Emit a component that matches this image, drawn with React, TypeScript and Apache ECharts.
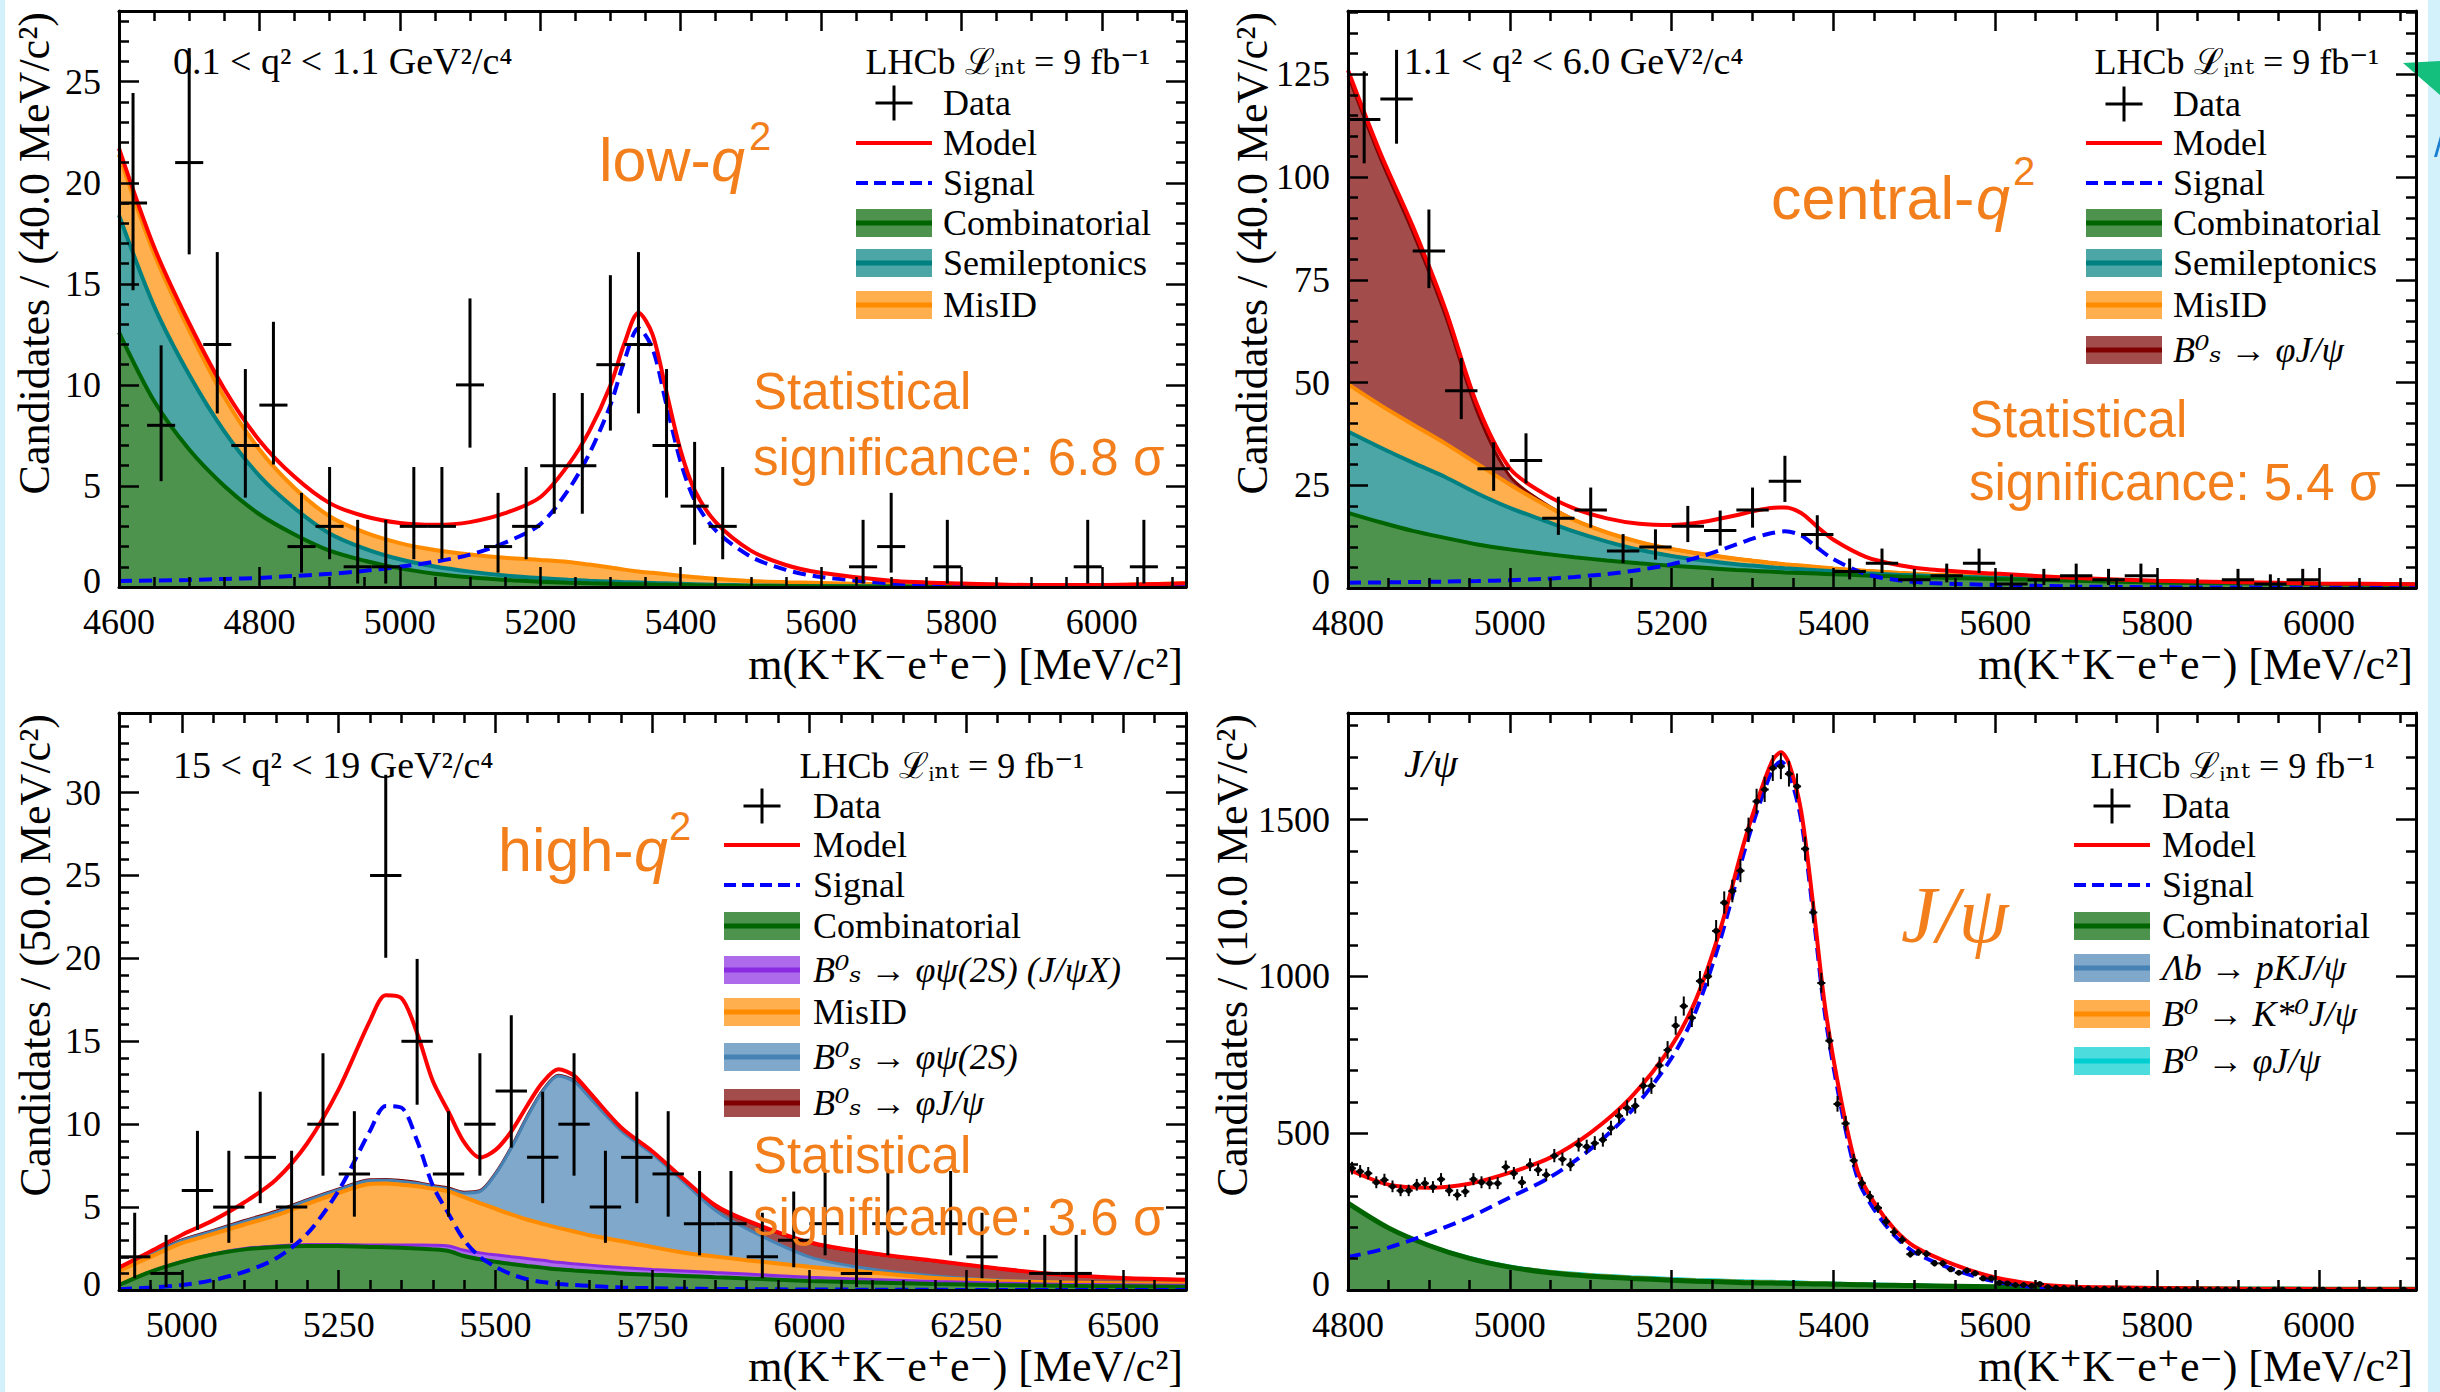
import React, { useEffect, useRef } from "react";
import * as echarts from "echarts";

// ---------------- Panel 1 : low-q2 ----------------
const P1_BIN_START = 4600;
const P1_BIN_WIDTH = 40;
const P1_COUNTS = [19, 8, 21, 12, 7, 9, 2, 3, 1, 1, 3, 3, 10, 2, 3, 6, 6, 11, 12, 7, 4, 3, 0, 0, 0, 0, 1, 2, 0, 1, 0, 0, 0, 0, 1, 0, 1, 0];
const P1_X = [4600, 4650, 4700, 4750, 4800, 4850, 4900, 4950, 5000, 5050, 5100, 5150, 5200, 5240, 5270, 5300, 5320, 5340, 5360, 5380, 5400, 5420, 5450, 5500, 5550, 5600, 5700, 5800, 5900, 6000, 6120];
const P1_COMB = [12.6, 9.2, 6.8, 5.0, 3.6, 2.6, 1.8, 1.3, 0.92, 0.66, 0.48, 0.35, 0.26, 0.21, 0.18, 0.16, 0.14, 0.13, 0.12, 0.11, 0.1, 0.09, 0.07, 0.05, 0.04, 0.03, 0.02, 0.01, 0.01, 0.01, 0.01];
const P1_SEMI = [5.8, 4.7, 3.7, 2.7, 1.9, 1.3, 0.85, 0.6, 0.45, 0.35, 0.28, 0.22, 0.18, 0.15, 0.13, 0.11, 0.1, 0.09, 0.08, 0.07, 0.06, 0.05, 0.04, 0.03, 0.02, 0.02, 0.01, 0.01, 0, 0, 0];
const P1_MISID = [3.0, 2.6, 2.2, 1.7, 1.3, 1.0, 0.85, 0.8, 0.8, 0.82, 0.85, 0.88, 0.9, 0.88, 0.8, 0.7, 0.62, 0.55, 0.5, 0.45, 0.4, 0.35, 0.3, 0.22, 0.18, 0.15, 0.1, 0.08, 0.06, 0.08, 0.17];
const P1_SIGNAL = [0.3, 0.32, 0.35, 0.4, 0.45, 0.55, 0.65, 0.8, 1.0, 1.25, 1.6, 2.2, 3.1, 4.8, 6.6, 9.0, 11.2, 12.8, 11.8, 9.0, 6.2, 4.3, 2.8, 1.5, 0.85, 0.5, 0.18, 0.07, 0.03, 0.01, 0];
const P1_MODEL = [21.7, 16.82, 13.05, 9.8, 7.25, 5.45, 4.15, 3.5, 3.17, 3.08, 3.21, 3.65, 4.44, 6.04, 7.71, 9.97, 12.06, 13.57, 12.5, 9.63, 6.76, 4.79, 3.21, 1.8, 1.09, 0.7, 0.31, 0.17, 0.1, 0.1, 0.18];
const P1_X_TICKS = [4600, 4800, 5000, 5200, 5400, 5600, 5800, 6000];
const P1_Y_TICKS = [0, 5, 10, 15, 20, 25];

// ---------------- Panel 2 : central-q2 ----------------
const P2_BIN_START = 4800;
const P2_BIN_WIDTH = 40;
const P2_COUNTS = [114, 119, 82, 48, 29, 31, 17, 19, 9, 10, 15, 14, 19, 26, 13, 4, 6, 2, 3, 6, 1, 2, 3, 2, 3, 0, 0, 2, 1, 2, 0, 0, 0];
const P2_X = [4800, 4840, 4880, 4920, 4960, 5000, 5040, 5080, 5120, 5160, 5200, 5240, 5280, 5300, 5320, 5340, 5360, 5380, 5400, 5440, 5480, 5520, 5600, 5700, 5800, 5900, 6000, 6120];
const P2_COMB = [18.3, 16.0, 13.9, 12.2, 10.6, 9.4, 8.4, 7.5, 6.7, 6.0, 5.4, 4.9, 4.4, 4.2, 4.0, 3.8, 3.65, 3.5, 3.35, 3.05, 2.8, 2.55, 2.2, 1.75, 1.35, 1.15, 0.95, 0.8];
const P2_SEMI = [19.8, 18.2, 16.6, 14.8, 12.4, 10.1, 8.2, 6.2, 4.6, 3.3, 2.4, 1.8, 1.4, 1.25, 1.1, 1.0, 0.9, 0.8, 0.7, 0.55, 0.45, 0.4, 0.3, 0.2, 0.12, 0.08, 0.05, 0.03];
const P2_MISID = [11.5, 10.3, 9.3, 8.2, 7.2, 5.7, 4.0, 2.8, 2.2, 1.9, 1.7, 1.5, 1.3, 1.2, 1.1, 1.0, 0.9, 0.8, 0.7, 0.6, 0.45, 0.35, 0.25, 0.15, 0.1, 0.08, 0.06, 0.05];
const P2_BSJPSI = [75.1, 60.0, 46.8, 31.3, 12.5, 2.0, 0.4, 0.1, 0.05, 0.02, 0, 0, 0, 0, 0, 0, 0, 0, 0, 0, 0, 0, 0, 0, 0, 0, 0, 0];
const P2_SIGNAL = [1.3, 1.35, 1.45, 1.55, 1.7, 1.9, 2.2, 2.7, 3.4, 4.4, 5.8, 7.9, 10.6, 12.0, 13.2, 13.8, 12.8, 9.8, 7.0, 3.4, 1.9, 1.2, 0.75, 0.35, 0.18, 0.1, 0.05, 0.02];
const P2_MODEL = [126.0, 105.85, 88.05, 68.05, 44.4, 29.1, 23.2, 19.3, 16.95, 15.62, 15.3, 16.1, 17.7, 18.65, 19.4, 19.6, 18.25, 14.9, 11.75, 7.6, 5.6, 4.5, 3.5, 2.45, 1.75, 1.41, 1.11, 0.9];
const P2_X_TICKS = [4800, 5000, 5200, 5400, 5600, 5800, 6000];
const P2_Y_TICKS = [0, 25, 50, 75, 100, 125];

// ---------------- Panel 3 : high-q2 ----------------
const P3_BIN_START = 4900;
const P3_BIN_WIDTH = 50;
const P3_COUNTS = [2, 1, 6, 5, 8, 5, 10, 7, 25, 15, 7, 10, 12, 8, 10, 5, 8, 7, 4, 4, 2, 3, 4, 1, 4, 0, 4, 2, 0, 1, 1, 0, 0, 0];
const P3_X = [4900, 4950, 5000, 5050, 5100, 5150, 5200, 5250, 5300, 5325, 5350, 5375, 5400, 5425, 5450, 5475, 5500, 5525, 5550, 5575, 5600, 5625, 5650, 5700, 5750, 5800, 5850, 5900, 6000, 6100, 6200, 6300, 6400, 6500, 6600];
const P3_COMB = [0.3, 1.1, 1.7, 2.15, 2.45, 2.6, 2.66, 2.65, 2.6, 2.58, 2.55, 2.5, 2.45, 2.35, 2.05, 1.85, 1.7, 1.57, 1.45, 1.35, 1.25, 1.18, 1.12, 1.0, 0.92, 0.85, 0.77, 0.7, 0.55, 0.45, 0.36, 0.3, 0.25, 0.22, 0.2];
const P3_PSI2S_JPSIX = [0, 0.01, 0.02, 0.03, 0.05, 0.06, 0.08, 0.1, 0.12, 0.14, 0.17, 0.21, 0.25, 0.3, 0.35, 0.39, 0.42, 0.44, 0.45, 0.44, 0.42, 0.4, 0.38, 0.35, 0.32, 0.3, 0.28, 0.26, 0.22, 0.18, 0.15, 0.12, 0.1, 0.09, 0.08];
const P3_MISID = [0.85, 0.89, 1.1, 1.2, 1.45, 1.84, 2.46, 3.1, 3.68, 3.7, 3.63, 3.55, 3.4, 3.3, 3.2, 3.0, 2.78, 2.55, 2.35, 2.2, 2.08, 1.95, 1.8, 1.6, 1.35, 1.1, 0.97, 0.84, 0.63, 0.42, 0.21, 0.13, 0.1, 0.09, 0.1];
const P3_PSI2S = [0.1, 0.12, 0.15, 0.17, 0.19, 0.2, 0.2, 0.2, 0.2, 0.2, 0.2, 0.18, 0.15, 0.15, 0.25, 0.7, 2.1, 4.0, 6.15, 8.0, 9.15, 9.05, 8.3, 6.65, 5.6, 4.25, 2.78, 1.9, 0.6, 0.2, 0.13, 0.05, 0.03, 0.02, 0.02];
const P3_BSJPSI = [0.05, 0.05, 0.05, 0.05, 0.05, 0.05, 0.05, 0.05, 0.05, 0.05, 0.05, 0.05, 0.05, 0.05, 0.05, 0.05, 0.05, 0.05, 0.05, 0.05, 0.05, 0.05, 0.05, 0.05, 0.05, 0.1, 0.25, 0.45, 0.85, 0.95, 0.9, 0.7, 0.45, 0.3, 0.22];
const P3_SIGNAL = [0.05, 0.15, 0.3, 0.6, 1.1, 1.9, 3.4, 6.0, 9.6, 11.1, 11.0, 9.0, 6.3, 4.6, 3.0, 2.0, 1.4, 0.95, 0.65, 0.48, 0.36, 0.3, 0.25, 0.15, 0.11, 0.08, 0.06, 0.05, 0.03, 0.02, 0.01, 0, 0, 0, 0];
const P3_MODEL = [1.35, 2.32, 3.32, 4.2, 5.29, 6.65, 8.85, 12.1, 16.25, 17.77, 17.6, 15.49, 12.6, 10.75, 8.9, 7.99, 8.45, 9.56, 11.1, 12.52, 13.31, 12.93, 11.9, 9.8, 8.35, 6.68, 5.11, 4.2, 2.88, 2.22, 1.76, 1.3, 0.93, 0.72, 0.62];
const P3_X_TICKS = [5000, 5250, 5500, 5750, 6000, 6250, 6500];
const P3_Y_TICKS = [0, 5, 10, 15, 20, 25, 30];

// ---------------- Panel 4 : J/psi ----------------
const P4_BIN_START = 4800;
const P4_BIN_WIDTH = 10;
const P4_COUNTS = [
  388, 378, 372, 343, 351, 330, 317, 317, 335, 340,
  328, 353, 317, 303, 314, 353, 343, 340, 340, 392,
  372, 343, 399, 383, 367, 428, 417, 399, 463, 457,
  468, 479, 516, 555, 580, 587, 651, 651, 716, 765,
  843, 905, 868, 985, 1000, 1145, 1235, 1272, 1337, 1467,
  1558, 1596, 1664, 1670, 1646, 1606, 1407, 1204, 979, 795,
  593, 531, 413, 341, 298, 262, 218, 185, 160, 114,
  120, 115, 85, 85, 66, 55, 62, 53, 37, 37,
  23, 21, 16, 16, 13, 19, 9, 7, 6, 5,
  4, 5, 3, 4, 3, 2, 3, 2, 2, 3,
  1, 2, 2, 1, 2, 1, 1, 2, 1, 1,
  0, 1, 1, 0, 1, 1, 0, 1, 0, 1,
  1, 0, 1, 0, 0, 1, 0, 1, 0, 0,
  1, 0,
];
const P4_X = [4800, 4850, 4900, 4950, 5000, 5050, 5100, 5150, 5200, 5230, 5260, 5290, 5310, 5325, 5335, 5345, 5360, 5375, 5390, 5410, 5430, 5450, 5475, 5500, 5550, 5600, 5650, 5700, 5800, 5900, 6000, 6120];
const P4_COMB = [277, 198, 142, 101, 73, 55, 44, 37, 31, 28, 26, 23.5, 22.5, 22, 21.5, 21, 20, 19.5, 19, 18, 17, 16, 15, 14, 12, 10, 8, 6.5, 5, 3.5, 2.5, 2];
const P4_LAMBDAB = [1, 1, 1.5, 2, 2, 2.5, 3, 3, 3, 3, 3, 3, 3, 3, 3, 3, 3, 3, 3, 2.5, 2.5, 2, 2, 2, 1.5, 1, 0.8, 0.5, 0.4, 0.2, 0.1, 0.1];
const P4_KSTAR = [1, 1, 1.5, 2, 2.5, 3, 3, 3, 3, 3, 3, 3, 3, 3, 3, 3, 3, 2.5, 2.5, 2, 2, 2, 1.5, 1.5, 1, 1, 0.6, 0.5, 0.3, 0.2, 0.1, 0.1];
const P4_PHI = [1, 1, 1, 2, 1.5, 1.5, 2, 2, 2, 2, 2, 2, 2, 2, 2, 2, 2, 1.5, 1.5, 1.5, 1.5, 2, 1.5, 1.5, 1.5, 1, 0.6, 0.5, 0.3, 0.1, 0.1, 0];
const P4_SIGNAL = [105, 135, 180, 232, 295, 360, 450, 570, 740, 890, 1115, 1400, 1560, 1660, 1685, 1650, 1500, 1200, 870, 575, 355, 258, 175, 120, 64, 27, 9, 2, 0.5, 0, 0, 0];
const P4_MODEL = [385, 336, 326, 339, 374, 422, 502, 615, 779, 926, 1149, 1431.5, 1590.5, 1690, 1714.5, 1679, 1528, 1226.5, 896, 599, 378, 280, 195, 139, 80, 40, 19, 10, 6.5, 4, 2.8, 2.2];
const P4_X_TICKS = [4800, 5000, 5200, 5400, 5600, 5800, 6000];
const P4_Y_TICKS = [0, 500, 1000, 1500];

// ---------------- styling ----------------
const SERIF = '"Liberation Serif", "DejaVu Serif", serif';
const SANS = '"Liberation Sans", Arial, sans-serif';
const ORANGE = "#f27f1b";
const FILL = { comb: "#4d934d", semi: "#4da6a6", misid: "#ffaf4d", bsjpsi: "#a34c4c", psi2s: "#7fa8cb", psi2sx: "#ad6beb", phi: "#4ddcdd" };
const LINE = { comb: "#006400", semi: "#008080", misid: "#ff8c00", bsjpsi: "#800000", psi2s: "#4682b4", psi2sx: "#8a2be2", phi: "#00ced1" };

const GRIDS = [
  { left: 119, top: 11, width: 1067, height: 576 },
  { left: 1348, top: 11, width: 1068, height: 577 },
  { left: 119, top: 713, width: 1067, height: 577 },
  { left: 1348, top: 713, width: 1068, height: 577 },
];

const PANELS = [
  {
    x: P1_X, xr: [4600, 6120], yr: [0, 28.5], xt: P1_X_TICKS, xs: 50, yt: P1_Y_TICKS, ys: 1,
    bands: [
      { v: P1_COMB, fill: FILL.comb, line: LINE.comb, w: 4 },
      { v: P1_SEMI, fill: FILL.semi, line: LINE.semi, w: 4 },
      { v: P1_MISID, fill: FILL.misid, line: LINE.misid, w: 4 },
    ],
    model: P1_MODEL, signal: P1_SIGNAL, counts: P1_COUNTS, b0: P1_BIN_START, bw: P1_BIN_WIDTH, dot: false, ew: 3,
  },
  {
    x: P2_X, xr: [4800, 6120], yr: [0, 140.4], xt: P2_X_TICKS, xs: 50, yt: P2_Y_TICKS, ys: 5,
    bands: [
      { v: P2_COMB, fill: FILL.comb, line: LINE.comb, w: 4 },
      { v: P2_SEMI, fill: FILL.semi, line: LINE.semi, w: 4 },
      { v: P2_MISID, fill: FILL.misid, line: LINE.misid, w: 4 },
      { v: P2_BSJPSI, fill: FILL.bsjpsi, line: LINE.bsjpsi, w: 3 },
    ],
    model: P2_MODEL, signal: P2_SIGNAL, counts: P2_COUNTS, b0: P2_BIN_START, bw: P2_BIN_WIDTH, dot: false, ew: 3,
  },
  {
    x: P3_X, xr: [4900, 6600], yr: [0, 34.8], xt: P3_X_TICKS, xs: 50, yt: P3_Y_TICKS, ys: 1,
    bands: [
      { v: P3_COMB, fill: FILL.comb, line: LINE.comb, w: 4 },
      { v: P3_PSI2S_JPSIX, fill: FILL.psi2sx, line: LINE.psi2sx, w: 3 },
      { v: P3_MISID, fill: FILL.misid, line: LINE.misid, w: 4 },
      { v: P3_PSI2S, fill: FILL.psi2s, line: LINE.psi2s, w: 3 },
      { v: P3_BSJPSI, fill: FILL.bsjpsi, line: LINE.bsjpsi, w: 3 },
    ],
    model: P3_MODEL, signal: P3_SIGNAL, counts: P3_COUNTS, b0: P3_BIN_START, bw: P3_BIN_WIDTH, dot: false, ew: 3,
  },
  {
    x: P4_X, xr: [4800, 6120], yr: [0, 1840], xt: P4_X_TICKS, xs: 50, yt: P4_Y_TICKS, ys: 100,
    bands: [
      { v: P4_COMB, fill: FILL.comb, line: LINE.comb, w: 5 },
      { v: P4_LAMBDAB, fill: FILL.psi2s, line: LINE.psi2s, w: 1.5 },
      { v: P4_KSTAR, fill: FILL.misid, line: LINE.misid, w: 1.5 },
      { v: P4_PHI, fill: FILL.phi, line: LINE.phi, w: 1.5 },
    ],
    model: P4_MODEL, signal: P4_SIGNAL, counts: P4_COUNTS, b0: P4_BIN_START, bw: P4_BIN_WIDTH, dot: true, ew: 2,
  },
];

function stepValues(lo: number, hi: number, step: number) {
  const out: number[] = [];
  for (let v = Math.ceil(lo / step) * step; v <= hi + 1e-9; v += step) out.push(Math.round(v * 1000) / 1000);
  return out;
}

function cumulate(parts: number[][]) {
  const out: number[][] = [];
  let acc = parts[0].map(() => 0);
  for (const p of parts) {
    acc = acc.map((a, i) => a + p[i]);
    out.push(acc);
  }
  return out;
}

// Gehrels approximation of the 68% Poisson interval
function poissonInterval(n: number) {
  const up = n + 1 + Math.sqrt(n + 0.75);
  const lo = n <= 0 ? 0 : n * Math.pow(1 - 1 / (9 * n) - 1 / (3 * Math.sqrt(n)), 3);
  return [lo, up];
}

function txt(text: string, x: number, y: number, size: number, o: any = {}) {
  const align = o.align || "left";
  const valign = o.valign || "middle";
  return {
    type: "text",
    x,
    y,
    rotation: o.rot || 0,
    z: 50,
    silent: true,
    style: {
      text,
      fill: o.color || "#000",
      fontSize: size,
      fontFamily: o.family || SERIF,
      fontStyle: o.italic ? "italic" : "normal",
      fontWeight: "normal",
      textAlign: align,
      textVerticalAlign: valign,
      align,
      verticalAlign: valign,
    },
  };
}

function legendItems(symL: number, textX: number, rows: any[]) {
  const els: any[] = [];
  const symW = 76;
  const cx = symL + symW / 2;
  rows.forEach((r) => {
    const y = r.y;
    if (r.kind === "data") {
      els.push({ type: "line", z: 50, silent: true, shape: { x1: cx - 18.5, y1: y, x2: cx + 18.5, y2: y }, style: { stroke: "#000", lineWidth: 3 } });
      els.push({ type: "line", z: 50, silent: true, shape: { x1: cx, y1: y - 17.5, x2: cx, y2: y + 17.5 }, style: { stroke: "#000", lineWidth: 3 } });
    } else if (r.kind === "line" || r.kind === "dash") {
      els.push({
        type: "line", z: 50, silent: true,
        shape: { x1: symL, y1: y, x2: symL + symW, y2: y },
        style: { stroke: r.color, lineWidth: 4, lineDash: r.kind === "dash" ? [12, 6] : null },
      });
    } else {
      els.push({ type: "rect", z: 50, silent: true, shape: { x: symL, y: y - 14, width: symW, height: 28 }, style: { fill: r.fill } });
      els.push({ type: "line", z: 51, silent: true, shape: { x1: symL, y1: y, x2: symL + symW, y2: y }, style: { stroke: r.color, lineWidth: 5 } });
    }
    els.push(txt(r.label, textX, y, 36, { italic: !!r.italic }));
  });
  return els;
}

function buildOption() {
  const xAxes: any[] = [];
  const yAxes: any[] = [];
  const mainX: number[] = [];
  const mainY: number[] = [];
  const series: any[] = [];

  const tickStyle = { color: "#000", width: 2.5 };
  const lineStyle = { color: "#000", width: 3 };
  const labelFont = { color: "#000", fontFamily: SERIF, fontSize: 36 };

  PANELS.forEach((p, gi) => {
    const minorX = stepValues(p.xr[0], p.xr[1], p.xs).filter((v) => !p.xt.includes(v));
    const minorY = stepValues(p.yr[0], p.yr[1], p.ys).filter((v) => !p.yt.includes(v));
    const xBase = { type: "value", gridIndex: gi, min: p.xr[0], max: p.xr[1], z: 10, splitLine: { show: false } };
    const yBase = { type: "value", gridIndex: gi, min: p.yr[0], max: p.yr[1], z: 10, splitLine: { show: false } };

    mainX.push(xAxes.length);
    xAxes.push({
      ...xBase, position: "bottom",
      axisLine: { show: true, onZero: false, lineStyle },
      axisTick: { show: true, inside: true, length: 20, lineStyle: tickStyle, customValues: p.xt },
      axisLabel: { show: true, customValues: p.xt, margin: 17, ...labelFont, formatter: (v: number) => String(v) },
    });
    xAxes.push({
      ...xBase, position: "bottom",
      axisLine: { show: false, onZero: false },
      axisTick: { show: true, inside: true, length: 10, lineStyle: tickStyle, customValues: minorX },
      axisLabel: { show: false },
    });
    xAxes.push({
      ...xBase, position: "top",
      axisLine: { show: true, onZero: false, lineStyle },
      axisTick: { show: true, inside: true, length: 20, lineStyle: tickStyle, customValues: p.xt },
      axisLabel: { show: false },
    });
    xAxes.push({
      ...xBase, position: "top",
      axisLine: { show: false, onZero: false },
      axisTick: { show: true, inside: true, length: 10, lineStyle: tickStyle, customValues: minorX },
      axisLabel: { show: false },
    });

    mainY.push(yAxes.length);
    yAxes.push({
      ...yBase, position: "left",
      axisLine: { show: true, onZero: false, lineStyle },
      axisTick: { show: true, inside: true, length: 20, lineStyle: tickStyle, customValues: p.yt },
      axisLabel: {
        show: true, customValues: p.yt, margin: 18, ...labelFont,
        // the zero label is nudged up a little so it clears the x labels in the corner
        formatter: (v: number) => (v === 0 ? "{z|0}" : String(v)),
        rich: { z: { ...labelFont, padding: [0, 0, 12, 0] } },
      },
    });
    yAxes.push({
      ...yBase, position: "left",
      axisLine: { show: false, onZero: false },
      axisTick: { show: true, inside: true, length: 10, lineStyle: tickStyle, customValues: minorY },
      axisLabel: { show: false },
    });
    yAxes.push({
      ...yBase, position: "right",
      axisLine: { show: true, onZero: false, lineStyle },
      axisTick: { show: true, inside: true, length: 20, lineStyle: tickStyle, customValues: p.yt },
      axisLabel: { show: false },
    });
    yAxes.push({
      ...yBase, position: "right",
      axisLine: { show: false, onZero: false },
      axisTick: { show: true, inside: true, length: 10, lineStyle: tickStyle, customValues: minorY },
      axisLabel: { show: false },
    });

    const xi = mainX[gi];
    const yi = mainY[gi];
    // stacked bands: draw the top-most cumulative first so lower bands paint over it
    const tops = cumulate(p.bands.map((b) => b.v));
    for (let k = p.bands.length - 1; k >= 0; k--) {
      const b = p.bands[k];
      series.push({
        type: "line", xAxisIndex: xi, yAxisIndex: yi, z: 2, silent: true,
        data: p.x.map((x, i) => [x, tops[k][i]]),
        smooth: 0.3, symbol: "none", showSymbol: false,
        lineStyle: { color: b.line, width: b.w },
        areaStyle: { color: b.fill, opacity: 1 },
      });
    }
    series.push({
      type: "line", xAxisIndex: xi, yAxisIndex: yi, z: 3, silent: true,
      data: p.x.map((x, i) => [x, p.signal[i]]),
      smooth: 0.3, symbol: "none", showSymbol: false,
      lineStyle: { color: "#0000ff", width: 4, type: [13, 7] },
    });
    series.push({
      type: "line", xAxisIndex: xi, yAxisIndex: yi, z: 3, silent: true,
      data: p.x.map((x, i) => [x, p.model[i]]),
      smooth: 0.3, symbol: "none", showSymbol: false,
      lineStyle: { color: "#ff0000", width: 4 },
    });
    const pts: number[][] = [];
    p.counts.forEach((n, i) => {
      if (n <= 0) return;
      const [lo, up] = poissonInterval(n);
      pts.push([p.b0 + p.bw * (i + 0.5), n, lo, up, p.bw / 2]);
    });
    const ew = p.ew;
    const dot = p.dot;
    series.push({
      type: "custom", xAxisIndex: xi, yAxisIndex: yi, z: 4, silent: true, clip: true,
      data: pts,
      renderItem: (params: any, api: any) => {
        const x = api.value(0), y = api.value(1), lo = api.value(2), up = api.value(3), hw = api.value(4);
        const a = api.coord([x - hw, y]);
        const b = api.coord([x + hw, y]);
        const c = api.coord([x, lo]);
        const d = api.coord([x, up]);
        const children: any[] = [
          { type: "line", shape: { x1: a[0], y1: a[1], x2: b[0], y2: b[1] }, style: { stroke: "#000", lineWidth: ew } },
          { type: "line", shape: { x1: c[0], y1: c[1], x2: d[0], y2: d[1] }, style: { stroke: "#000", lineWidth: ew } },
        ];
        if (dot) {
          const m = api.coord([x, y]);
          children.push({ type: "circle", shape: { cx: m[0], cy: m[1], r: 3 }, style: { fill: "#000" } });
        }
        return { type: "group", children };
      },
    });
  });

  const g: any[] = [];
  // slide background edges
  g.push({ type: "rect", z: 0, silent: true, shape: { x: 0, y: 0, width: 5, height: 1392 }, style: { fill: "#d3f1fb" } });
  g.push({ type: "rect", z: 0, silent: true, shape: { x: 2428, y: 0, width: 12, height: 1392 }, style: { fill: "#d3f1fb" } });
  g.push({ type: "polygon", z: 1, silent: true, shape: { points: [[2403, 63], [2440, 61], [2440, 95]] }, style: { fill: "#14bf7e" } });
  g.push({ type: "polygon", z: 1, silent: true, shape: { points: [[2434, 157], [2440, 136], [2440, 146], [2437, 157]] }, style: { fill: "#1a7fd0" } });

  // axis titles
  g.push(txt("Candidates / (40.0 MeV/c²)", 34, 12, 44, { rot: Math.PI / 2, align: "right" }));
  g.push(txt("Candidates / (40.0 MeV/c²)", 1252, 12, 44, { rot: Math.PI / 2, align: "right" }));
  g.push(txt("Candidates / (50.0 MeV/c²)", 35, 714, 44, { rot: Math.PI / 2, align: "right" }));
  g.push(txt("Candidates / (10.0 MeV/c²)", 1232, 714, 44, { rot: Math.PI / 2, align: "right" }));
  g.push(txt("m(K⁺K⁻e⁺e⁻) [MeV/c²]", 1183, 664, 44, { align: "right" }));
  g.push(txt("m(K⁺K⁻e⁺e⁻) [MeV/c²]", 2413, 664, 44, { align: "right" }));
  g.push(txt("m(K⁺K⁻e⁺e⁻) [MeV/c²]", 1183, 1366, 44, { align: "right" }));
  g.push(txt("m(K⁺K⁻e⁺e⁻) [MeV/c²]", 2413, 1366, 44, { align: "right" }));

  // region labels
  g.push(txt("0.1 < q² < 1.1 GeV²/c⁴", 173, 61, 38));
  g.push(txt("1.1 < q² < 6.0 GeV²/c⁴", 1404, 61, 38));
  g.push(txt("15 < q² < 19 GeV²/c⁴", 173, 765, 38));
  g.push(txt("J/ψ", 1404, 763, 40, { italic: true }));
  g.push(txt("LHCb ℒᵢₙₜ = 9 fb⁻¹", 1150, 62, 36, { align: "right" }));
  g.push(txt("LHCb ℒᵢₙₜ = 9 fb⁻¹", 2379, 62, 36, { align: "right" }));
  g.push(txt("LHCb ℒᵢₙₜ = 9 fb⁻¹", 1084, 766, 36, { align: "right" }));
  g.push(txt("LHCb ℒᵢₙₜ = 9 fb⁻¹", 2375, 766, 36, { align: "right" }));

  // orange annotations
  const O = { color: ORANGE, family: SANS };
  g.push(txt("low-", 599, 160, 61, O));
  g.push(txt("q", 711, 160, 61, { ...O, italic: true }));
  g.push(txt("2", 749, 136, 40, O));
  g.push(txt("central-", 1771, 198, 61, O));
  g.push(txt("q", 1976, 198, 61, { ...O, italic: true }));
  g.push(txt("2", 2013, 171, 40, O));
  g.push(txt("high-", 498, 850, 61, O));
  g.push(txt("q", 634, 850, 61, { ...O, italic: true }));
  g.push(txt("2", 669, 826, 40, O));
  g.push(txt("J/ψ", 1901, 915, 80, { color: ORANGE, italic: true }));
  g.push(txt("Statistical", 753, 391, 51, O));
  g.push(txt("significance: 6.8 σ", 753, 457, 51, O));
  g.push(txt("Statistical", 1969, 419, 51, O));
  g.push(txt("significance: 5.4 σ", 1969, 482, 51, O));
  g.push(txt("Statistical", 753, 1155, 51, O));
  g.push(txt("significance: 3.6 σ", 753, 1217, 51, O));

  // legends
  g.push(...legendItems(856, 943, [
    { y: 103, kind: "data", label: "Data" },
    { y: 143, kind: "line", color: "#ff0000", label: "Model" },
    { y: 183, kind: "dash", color: "#0000ff", label: "Signal" },
    { y: 223, kind: "band", fill: FILL.comb, color: LINE.comb, label: "Combinatorial" },
    { y: 263, kind: "band", fill: FILL.semi, color: LINE.semi, label: "Semileptonics" },
    { y: 305, kind: "band", fill: FILL.misid, color: LINE.misid, label: "MisID" },
  ]));
  g.push(...legendItems(2086, 2173, [
    { y: 104, kind: "data", label: "Data" },
    { y: 143, kind: "line", color: "#ff0000", label: "Model" },
    { y: 183, kind: "dash", color: "#0000ff", label: "Signal" },
    { y: 223, kind: "band", fill: FILL.comb, color: LINE.comb, label: "Combinatorial" },
    { y: 263, kind: "band", fill: FILL.semi, color: LINE.semi, label: "Semileptonics" },
    { y: 305, kind: "band", fill: FILL.misid, color: LINE.misid, label: "MisID" },
    { y: 350, kind: "band", fill: FILL.bsjpsi, color: LINE.bsjpsi, label: "B⁰ₛ → φJ/ψ", italic: true },
  ]));
  g.push(...legendItems(724, 813, [
    { y: 806, kind: "data", label: "Data" },
    { y: 845, kind: "line", color: "#ff0000", label: "Model" },
    { y: 885, kind: "dash", color: "#0000ff", label: "Signal" },
    { y: 926, kind: "band", fill: FILL.comb, color: LINE.comb, label: "Combinatorial" },
    { y: 970, kind: "band", fill: FILL.psi2sx, color: LINE.psi2sx, label: "B⁰ₛ → φψ(2S) (J/ψX)", italic: true },
    { y: 1012, kind: "band", fill: FILL.misid, color: LINE.misid, label: "MisID" },
    { y: 1057, kind: "band", fill: FILL.psi2s, color: LINE.psi2s, label: "B⁰ₛ → φψ(2S)", italic: true },
    { y: 1103, kind: "band", fill: FILL.bsjpsi, color: LINE.bsjpsi, label: "B⁰ₛ → φJ/ψ", italic: true },
  ]));
  g.push(...legendItems(2074, 2162, [
    { y: 806, kind: "data", label: "Data" },
    { y: 845, kind: "line", color: "#ff0000", label: "Model" },
    { y: 885, kind: "dash", color: "#0000ff", label: "Signal" },
    { y: 926, kind: "band", fill: FILL.comb, color: LINE.comb, label: "Combinatorial" },
    { y: 968, kind: "band", fill: FILL.psi2s, color: LINE.psi2s, label: "Λb → pKJ/ψ", italic: true },
    { y: 1014, kind: "band", fill: FILL.misid, color: LINE.misid, label: "B⁰ → K*⁰J/ψ", italic: true },
    { y: 1061, kind: "band", fill: FILL.phi, color: LINE.phi, label: "B⁰ → φJ/ψ", italic: true },
  ]));

  return {
    animation: false,
    backgroundColor: "#ffffff",
    grid: GRIDS.map((gr) => ({ ...gr, containLabel: false, show: false })),
    xAxis: xAxes,
    yAxis: yAxes,
    series,
    graphic: { elements: g },
  };
}

export default function App() {
  const ref = useRef<HTMLDivElement>(null);
  useEffect(() => {
    document.body.style.margin = "0";
    document.body.style.overflow = "hidden";
    const chart = echarts.init(ref.current as HTMLDivElement, null, { renderer: "svg" });
    chart.setOption(buildOption() as any);
    return () => chart.dispose();
  }, []);
  return <div ref={ref} style={{ position: "absolute", left: 0, top: 0, width: 2440, height: 1392, background: "#fff" }} />;
}
